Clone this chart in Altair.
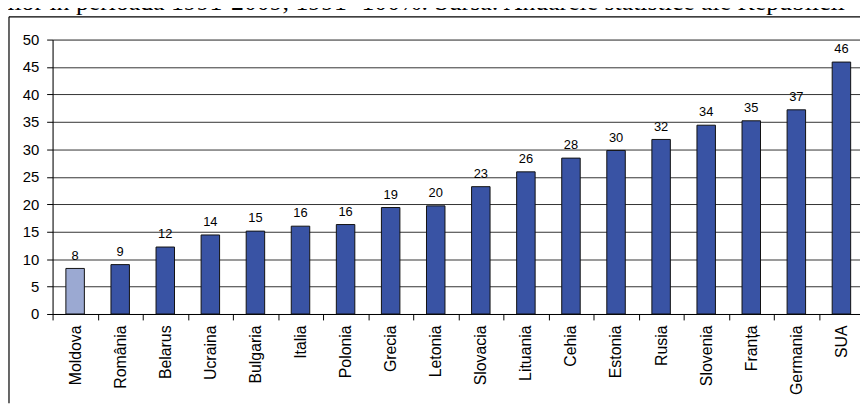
import altair as alt
import pandas as pd

countries = ["Moldova", "România", "Belarus", "Ucraina", "Bulgaria", "Italia",
             "Polonia", "Grecia", "Letonia", "Slovacia", "Lituania", "Cehia",
             "Estonia", "Rusia", "Slovenia", "Franța", "Germania", "SUA"]
values = [8.3, 9.0, 12.2, 14.4, 15.1, 16.0, 16.3, 19.4, 19.7, 23.2, 25.9,
          28.4, 29.8, 31.8, 34.4, 35.2, 37.2, 45.9]
groups = ["Moldova"] + ["alte"] * 17
y_ticks = [0, 5, 10, 15, 20, 25, 30, 35, 40, 45, 50]
caption = ("ţilor în perioada 1991-2009, 1991=100%. Sursa: Anuarele statistice "
           "ale Republicii Moldova")

df = pd.DataFrame({"country": countries, "value": values, "group": groups})

FONT = "Liberation Sans"


def x_enc():
    return alt.X(
        "country:N", sort=countries,
        scale=alt.Scale(range=[0, 819], paddingInner=0, paddingOuter=0),
        axis=alt.Axis(title=None, labelAngle=-90, tickBand="extent",
                      labelFont=FONT, labelFontSize=16, labelColor="black",
                      labelPadding=5, tickSize=6, tickColor="black",
                      domainColor="black", grid=False, labelOverlap=False),
    )


def y_enc():
    return alt.Y(
        "value:Q",
        scale=alt.Scale(domain=[0, 50], nice=False, zero=True),
        axis=alt.Axis(title=None, values=y_ticks, tickCount=11,
                      labelFont=FONT, labelFontSize=15, labelColor="black",
                      labelPadding=8, tickSize=6, tickColor="black",
                      domainColor="black", grid=True, labelOverlap=False,
                      gridColor="#333333", gridWidth=1, gridOpacity=1),
    )


one = alt.Data(values=[{}])

frame_top = alt.Chart(one).mark_rule(color="black", strokeWidth=1.2).encode(
    x=alt.value(-44), x2=alt.value(815), y=alt.value(-23)
)
frame_left = alt.Chart(one).mark_rule(color="black", strokeWidth=1.2).encode(
    x=alt.value(-44), y=alt.value(-23), y2=alt.value(367)
)

bars = alt.Chart(df).mark_bar(
    width=alt.RelativeBandSize(band=0.41), stroke="#111111", strokeWidth=1
).encode(
    x=x_enc(),
    y=y_enc(),
    color=alt.Color("group:N",
                    scale=alt.Scale(domain=["Moldova", "alte"],
                                    range=["#9BA9D2", "#3953A4"]),
                    legend=None),
)

labels = alt.Chart(df).mark_text(
    dy=-9, baseline="alphabetic", font=FONT, fontSize=13, color="black"
).encode(
    x=x_enc(),
    y=y_enc(),
    text=alt.Text("value:Q", format=".0f"),
)

cap = alt.Chart(alt.Data(values=[{"t": caption}])).mark_text(
    align="left", baseline="alphabetic", font="Liberation Serif",
    fontSize=26, color="black", limit=866, ellipsis="\u200b"
).encode(
    x=alt.value(-53), y=alt.value(-29.5), text="t:N"
)

chart = alt.layer(frame_top, frame_left, bars, labels, cap).properties(
    width=815, height=277,
    padding={"left": 45, "top": 30, "right": 0, "bottom": 91},
    autosize=alt.AutoSizeParams(type="none"),
).configure_view(stroke=None).configure(background="white")

chart.save("out.html", embed_options={"renderer": "svg", "actions": False})
